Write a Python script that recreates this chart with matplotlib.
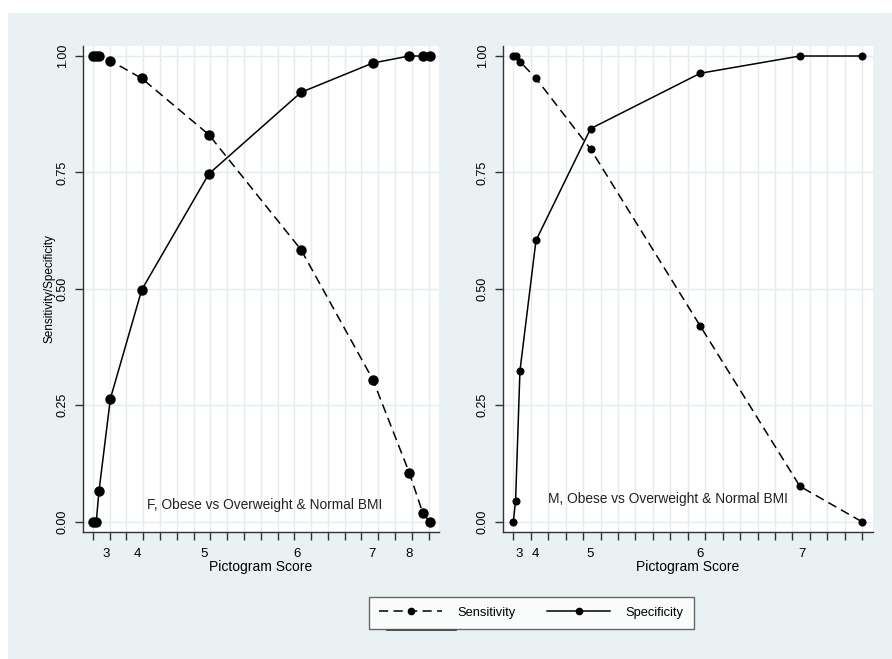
import matplotlib
matplotlib.use("Agg")
import matplotlib.pyplot as plt
from matplotlib.lines import Line2D
from matplotlib.patches import Rectangle

plt.rcParams['font.family'] = ['Liberation Sans', 'DejaVu Sans']

# ---- data (x = position on plotting scale, 0..20) ----
f_x = [0.0, 0.2, 0.36, 1.04, 2.91, 6.91, 12.4, 16.68, 18.85, 19.66, 20.06]
f_sens = [1.0, 1.0, 1.0, 0.990, 0.952, 0.831, 0.584, 0.305, 0.105, 0.018, 0.0]
f_spec = [0.0, 0.0, 0.065, 0.264, 0.498, 0.747, 0.922, 0.985, 1.0, 1.0, 1.0]
f_tick_pos = [0.80, 2.63, 6.61, 12.18, 16.62, 18.85]
f_tick_lab = ['3', '4', '5', '6', '7', '8']
f_title = 'F, Obese vs Overweight & Normal BMI'

m_x = [0.0, 0.13, 0.38, 1.30, 4.43, 10.72, 16.43, 19.98]
m_sens = [1.0, 1.0, 0.988, 0.952, 0.800, 0.420, 0.076, 0.0]
m_spec = [0.0, 0.045, 0.324, 0.604, 0.844, 0.963, 1.0, 1.0]
m_tick_pos = [0.34, 1.28, 4.39, 10.69, 16.54]
m_tick_lab = ['3', '4', '5', '6', '7']
m_title = 'M, Obese vs Overweight & Normal BMI'

y_ticks = [0.0, 0.25, 0.50, 0.75, 1.00]
y_labels = ['0.00', '0.25', '0.50', '0.75', '1.00']
minor_ticks = list(range(0, 21))

W, H = 892, 659
BG = '#e9f1f3'
GRID = '#e3ecef'

fig = plt.figure(figsize=(W / 100, H / 100), dpi=100)
fig.patch.set_facecolor(BG)
# white strips along the top and left edges
fig.patches.append(Rectangle((0, 1 - 13 / H), 1, 13 / H, transform=fig.transFigure,
                             facecolor='white', edgecolor='none', zorder=-10))
fig.patches.append(Rectangle((0, 0), 8 / W, 1, transform=fig.transFigure,
                             facecolor='white', edgecolor='none', zorder=-10))

def fx(px):
    return px / W

def fy(py):
    return 1 - py / H

top, bot = 46, 531.7
axL = fig.add_axes([fx(82.5), fy(bot), fx(439) - fx(82.5), (bot - top) / H])
axR = fig.add_axes([fx(502.5), fy(bot), fx(873) - fx(502.5), (bot - top) / H])

def style(ax, x, sens, spec, tpos, tlab, title, tx, ty, ms):
    ax.set_facecolor('white')
    ax.set_xlim(-0.62, 20.62)
    ax.set_ylim(-0.0215, 1.0215)
    for s in ['top', 'right']:
        ax.spines[s].set_visible(False)
    for s in ['left', 'bottom']:
        ax.spines[s].set_color('#333333')
        ax.spines[s].set_linewidth(1.0)
    ax.set_yticks(y_ticks)
    ax.set_yticklabels(y_labels, rotation=90, va='center', fontsize=9)
    ax.tick_params(axis='y', length=6, width=1, color='#333333', pad=4)
    ax.set_xticks(tpos)
    ax.set_xticklabels(tlab, fontsize=9.5)
    ax.tick_params(axis='x', which='major', length=0, pad=12)
    ax.set_xticks(minor_ticks, minor=True)
    ax.tick_params(axis='x', which='minor', length=6, width=1, color='#333333')
    ax.grid(False)
    ax.xaxis.grid(True, which='minor', color=GRID, lw=1.0)
    ax.yaxis.grid(True, which='major', color=GRID, lw=1.0)
    ax.set_axisbelow(True)
    ax.plot(x, sens, color='black', lw=1.1, dashes=(6, 3.5), marker='o', ms=ms,
            markerfacecolor='black', markeredgecolor='black', zorder=3)
    ax.plot(x, spec, color='black', lw=1.1, marker='o', ms=ms,
            markerfacecolor='black', markeredgecolor='black', zorder=3)
    ax.text(tx, ty, title, fontsize=9.9, ha='center', va='center', color='#222222')
    ax.set_xlabel('Pictogram Score', fontsize=10, labelpad=0)

style(axL, f_x, f_sens, f_spec, f_tick_pos, f_tick_lab, f_title, 10.25, 0.036, 6.5)
style(axR, m_x, m_sens, m_spec, m_tick_pos, m_tick_lab, m_title, 8.86, 0.049, 4.8)
axL.set_ylabel('Sensitivity/Specificity', fontsize=8.5, labelpad=1)

handles = [
    Line2D([], [], color='black', lw=1.1, dashes=(6, 3.5), marker='o', ms=4.5),
    Line2D([], [], color='black', lw=1.1, marker='o', ms=4.5),
]
leg = fig.legend(handles, ['Sensitivity', 'Specificity'], loc='center',
                 bbox_to_anchor=(fx(531.5), fy(613)), ncol=2, frameon=True,
                 fancybox=False, edgecolor='#444444', fontsize=9.3,
                 handlelength=4.9, handletextpad=1.2, columnspacing=2.4,
                 borderpad=0.75)
leg.get_frame().set_linewidth(1.0)

fig.add_artist(Line2D([fx(387), fx(456)], [fy(629.5), fy(629.5)],
                      transform=fig.transFigure, color='#333333', lw=1.2))

fig.savefig('out.png', dpi=100, facecolor=fig.get_facecolor())
